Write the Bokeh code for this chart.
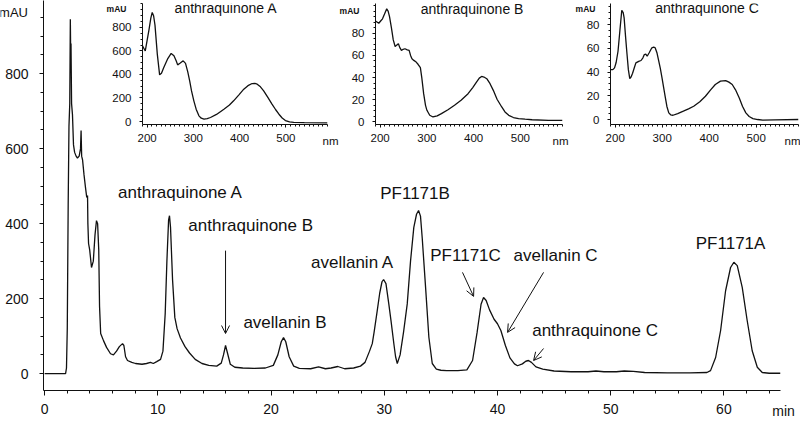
from bokeh.plotting import figure
from bokeh.models import Label, Arrow, OpenHead, FixedTicker, Range1d
from bokeh.embed import file_html
from bokeh.resources import INLINE

# ---------------- data: HPLC chromatogram (time in min, absorbance in mAU) ----------------
time_min = [0, 1.85, 1.93, 2.0, 2.08, 2.15, 2.22, 2.27, 2.3, 2.33, 2.38, 2.46, 2.55, 2.65, 2.78, 2.9,
            3.05, 3.17, 3.22, 3.27, 3.35, 3.48, 3.61, 3.72, 3.79, 3.82, 3.88, 3.98, 4.14, 4.3, 4.45,
            4.58, 4.68, 4.78, 4.85, 4.95, 5.2, 5.47, 5.82, 6.08, 6.35, 6.6, 6.88, 7.0, 7.15, 7.32,
            7.7, 8.03, 8.6, 9.0, 9.35, 9.6, 9.9, 10.24, 10.45, 10.65, 10.8, 10.95, 11.03, 11.12, 11.3,
            11.5, 11.7, 12.0, 12.4, 12.8, 13.3, 13.9, 14.5, 15.2, 15.6, 15.8, 15.98, 16.15, 16.4,
            16.8, 17.5, 18.5, 19.5, 20.2, 20.6, 20.9, 21.1, 21.3, 21.6, 22.0, 22.5, 23.5, 24.2, 24.8,
            25.3, 25.9, 26.5, 27.3, 27.9, 28.3, 28.7, 28.94, 29.1, 29.38, 29.6, 29.8, 29.94, 30.15,
            30.4, 30.6, 30.85, 31.0, 31.15, 31.4, 31.7, 32.03, 32.32, 32.61, 32.85, 33.03, 33.2,
            33.35, 33.65, 33.94, 34.24, 34.6, 35.0, 35.5, 36.5, 37.3, 37.8, 38.2, 38.55, 38.77, 39.0,
            39.3, 39.7, 40.0, 40.3, 40.7, 41.1, 41.5, 41.77, 42.2, 42.5, 42.74, 43.0, 43.4, 44.0,
            45.0, 46.5, 48.0, 48.7, 49.4, 50.5, 51.2, 52.0, 53.0, 55.0, 57.0, 58.5, 58.82, 59.27,
            59.71, 60.15, 60.59, 60.88, 61.18, 61.62, 62.06, 62.5, 62.95, 63.39, 64.0, 65.0]
signal_mau = [0, 0, 15, 120, 450, 660, 720, 945, 860, 880, 720, 690, 610, 590, 580, 575,
              580, 600, 648, 580, 570, 530, 496, 470, 475, 400, 347, 330, 283, 300, 370,
              408, 400, 330, 180, 107, 88, 70, 53, 50, 60, 72, 80, 75, 45, 35,
              30, 27, 25, 27, 30, 27, 32, 38, 60, 160, 300, 410, 421, 390, 250,
              150, 120, 95, 72, 55, 38, 27, 22, 20, 28, 50, 75, 55, 25,
              17, 15, 14, 15, 22, 50, 85, 96, 85, 45, 20, 14, 13, 18, 13,
              15, 19, 13, 15, 20, 30, 60, 80, 110, 168, 215, 245, 251, 240,
              186, 140, 79, 45, 27, 50, 110, 186, 300, 390, 425, 435, 420,
              363, 230, 97, 27, 12, 9, 8, 8, 10, 35, 110, 185, 203, 195,
              170, 145, 133, 115, 75, 42, 26, 21, 26, 33, 35, 30, 18, 12,
              7, 5, 5, 7, 5, 5, 7, 6, 3, 2, 2, 3, 8, 43,
              115, 221, 283, 297, 288, 230, 141, 61, 17, 3, 1, 1]

# ---------------- data: UV spectra (wavelength in nm, absorbance in mAU) ----------------
spec_a_nm = [190, 196, 200, 204, 208, 211, 214, 217, 222, 227, 231, 236, 244, 252, 258, 263, 266,
             271, 278, 283, 288, 292, 296, 301, 306, 312, 317, 323, 330, 337, 350, 366, 378, 387,
             398, 409, 418, 427, 433, 438, 445, 452, 461, 470, 478, 485, 492, 499, 508, 517, 540, 590]
spec_a_mau = [645, 600, 690, 780, 880, 928, 900, 820, 573, 397, 410, 460, 530, 579, 560, 515, 482,
              495, 516, 495, 420, 346, 260, 176, 105, 48, 28, 20, 25, 34, 60, 105, 140, 176,
              225, 275, 305, 323, 324, 318, 295, 261, 205, 148, 100, 62, 30, 8, -3, -8, -10, -12]

spec_b_nm = [190, 197, 201, 205, 210, 214, 217, 220, 224, 228, 232, 236, 239, 242, 245.5, 249, 253,
             258, 262, 265, 268, 272, 277, 281, 286, 289, 293, 297, 300, 306, 313, 322, 331, 345,
             359, 373, 388, 398, 406, 412, 417, 422, 428, 435, 442, 450, 460, 467, 475, 485, 496,
             510, 525, 560, 590]
spec_b_mau = [91, 89, 91, 93, 98, 102, 100, 95, 85, 74, 68, 69.5, 70.5, 67, 64.5, 65.5, 66,
              65, 64.5, 60, 57, 55.5, 54, 52, 49, 40, 25.5, 15, 10.5, 6, 4.5, 5.5, 7.5, 11,
              15, 19.5, 25.5, 31, 36, 39.5, 41, 40.5, 39, 34.5, 28.5, 20.5, 13.5, 9, 6, 4, 3,
              2.5, 2, 1.5, 1.5]

spec_c_nm = [191, 195, 198.6, 202, 206, 210, 214, 217, 219, 222, 224.6, 228, 231, 234, 237, 241,
             244, 250, 255, 259, 262, 265, 268, 272, 278, 282, 285, 289, 292, 296, 299.6, 303,
             306.8, 310, 314, 318, 323, 333, 345, 356, 367, 380, 392, 403, 413, 424, 435, 442,
             449, 456, 464, 471, 478, 485, 493, 503, 514, 540, 590]
spec_c_mau = [42, 42, 43.5, 48, 57.5, 75, 92, 90, 85.6, 70, 57.5, 42, 34.5, 36, 39, 44,
              47.7, 49, 49.7, 52, 54.7, 55, 53.3, 56, 60.4, 61, 60.4, 56, 50.5, 43, 35, 27,
              18.2, 11, 5.6, 4, 3.6, 5, 7, 9, 11.2, 15, 19.6, 25, 29.5, 32.3, 32.8, 31.5,
              29.5, 25, 18.2, 11, 5.6, 2.5, 0.8, 0, -0.5, -0.3, 0]

# ---------------- tick values ----------------
main_x_ticks = [0, 10, 20, 30, 40, 50, 60]
main_y_ticks = [0, 200, 400, 600, 800]
inset_x_ticks = [200, 300, 400, 500]
inset_a_y_ticks = [0, 200, 400, 600, 800]
inset_bc_y_ticks = [0, 20, 40, 60, 80]

# ---------------- peak annotations ----------------
peak_names = ["anthraquinone A", "anthraquinone B", "avellanin B", "avellanin A", "PF1171B",
              "PF1171C", "avellanin C", "anthraquinone C", "PF1171A"]
peak_label_t = [12.0, 18.2, 21.23, 27.2, 32.72, 37.18, 45.13, 48.62, 60.59]
peak_label_y = [483, 395, 136, 296, 480, 315, 315, 115, 347]

arrow_t_start = [15.98, 36.91, 44.07, 44.07]
arrow_y_start = [328, 270, 270, 67]
arrow_t_end = [15.98, 37.89, 40.89, 43.19]
arrow_y_end = [107, 206, 110, 35]

FONT = "Liberation Sans"
INK = "#111111"


def place(fig, left, top):
    fig.styles = {"position": "absolute", "left": f"{left}px", "top": f"{top}px"}


# ---------------- main chromatogram ----------------
p = figure(width=800, height=425, x_range=Range1d(-0.1, 65), y_range=Range1d(-45, 995),
           output_backend="svg", toolbar_location=None,
           min_border_left=43, min_border_right=20, min_border_top=0, min_border_bottom=35)
p.outline_line_color = None
p.grid.visible = False
p.line(time_min, signal_mau, line_color=INK, line_width=1.3)

p.xaxis.ticker = FixedTicker(ticks=main_x_ticks, minor_ticks=list(range(0, 66, 2)))
p.yaxis.ticker = FixedTicker(ticks=main_y_ticks, minor_ticks=list(range(0, 1000, 50)))
for ax in (p.xaxis[0], p.yaxis[0]):
    ax.axis_line_color = INK
    ax.axis_line_width = 1
    ax.major_tick_line_color = INK
    ax.minor_tick_line_color = INK
    ax.major_tick_in = 0
    ax.minor_tick_in = 0
    ax.major_label_text_font = FONT
    ax.major_label_text_font_size = "14px"
    ax.major_label_text_color = INK
p.xaxis.major_tick_out = 5
p.xaxis.minor_tick_out = 3
p.xaxis.major_label_standoff = 8
p.yaxis.major_tick_out = 4
p.yaxis.minor_tick_out = 3
p.yaxis.major_label_standoff = 11

for name, t, y in zip(peak_names, peak_label_t, peak_label_y):
    p.add_layout(Label(x=t, y=y, text=name, text_font=FONT, text_font_size="17px",
                       text_align="center", text_baseline="middle", text_color=INK))

for xs, ys, xe, ye in zip(arrow_t_start, arrow_y_start, arrow_t_end, arrow_y_end):
    p.add_layout(Arrow(end=OpenHead(size=8, line_width=1, line_color=INK),
                       x_start=xs, y_start=ys, x_end=xe, y_end=ye,
                       line_width=1, line_color=INK))
place(p, 0, 0)


# ---------------- insets ----------------
def make_inset(nm, mau, y_lo, y_hi, y_ticks, y_minor, title, title_x, title_y,
               frame_w, right_border, left_px):
    f = figure(width=45 + frame_w + right_border, height=152,
               x_range=Range1d(190, 590), y_range=Range1d(y_lo, y_hi),
               output_backend="svg", toolbar_location=None,
               min_border_left=45, min_border_right=right_border,
               min_border_top=3, min_border_bottom=28)
    f.background_fill_color = None
    f.border_fill_color = None
    f.outline_line_color = None
    f.grid.visible = False
    f.line(nm, mau, line_color=INK, line_width=1.3)
    f.xaxis.ticker = FixedTicker(ticks=inset_x_ticks, minor_ticks=list(range(190, 591, 10)))
    f.yaxis.ticker = FixedTicker(ticks=y_ticks, minor_ticks=y_minor)
    for ax in (f.xaxis[0], f.yaxis[0]):
        ax.axis_line_color = INK
        ax.major_tick_line_color = INK
        ax.minor_tick_line_color = INK
        ax.major_tick_in = 0
        ax.minor_tick_in = 0
        ax.major_tick_out = 3
        ax.minor_tick_out = 2
        ax.major_label_text_font = FONT
        ax.major_label_text_font_size = "11.5px"
        ax.major_label_text_color = INK
    f.xaxis.major_label_standoff = 6
    f.yaxis.major_label_standoff = 8
    f.add_layout(Label(x=title_x, y=title_y, text=title, text_font=FONT, text_font_size="14px",
                       text_align="center", text_baseline="middle", text_color=INK))
    place(f, left_px, 0)
    return f


inset_a = make_inset(spec_a_nm, spec_a_mau, -25.5, 1004, inset_a_y_ticks, list(range(0, 1001, 50)),
                     "anthraquinone A", 370.5, 962, 185, 12, 97)
inset_b = make_inset(spec_b_nm, spec_b_mau, -2.3, 106.8, inset_bc_y_ticks, list(range(0, 106, 5)),
                     "anthraquinone B", 396.5, 102, 187, 12, 330)
inset_c = make_inset(spec_c_nm, spec_c_mau, -4.2, 97.7, inset_bc_y_ticks, list(range(0, 98, 5)),
                     "anthraquinone C", 395.4, 93.5, 188, 2, 565)

# ---------------- overlay for unit labels that sit outside the plot frames (page pixels) ----------------
ov = figure(width=800, height=425, x_range=Range1d(0, 800), y_range=Range1d(425, 0),
            x_axis_type=None, y_axis_type=None, output_backend="svg", toolbar_location=None,
            min_border=0, min_border_left=0, min_border_right=0, min_border_top=0,
            min_border_bottom=0)
ov.background_fill_color = None
ov.border_fill_color = None
ov.outline_line_color = None
ov.grid.visible = False

unit_texts = ["mAU", "min", "mAU", "mAU", "mAU", "nm", "nm", "nm"]
unit_x = [13, 783, 116, 349, 585, 330, 560, 792]
unit_y = [12, 410, 8, 10, 8, 140, 140, 140]
unit_size = ["13px", "14px", "8.5px", "8.5px", "8.5px", "11.5px", "11.5px", "11.5px"]
unit_style = ["normal", "normal", "bold", "bold", "bold", "normal", "normal", "normal"]
for t, x, y, s, st in zip(unit_texts, unit_x, unit_y, unit_size, unit_style):
    ov.add_layout(Label(x=x, y=y, text=t, text_font=FONT, text_font_size=s, text_font_style=st,
                        text_align="center", text_baseline="middle", text_color=INK))
place(ov, 0, 0)

open("out.html", "w").write(file_html([p, inset_a, inset_b, inset_c, ov], INLINE))
